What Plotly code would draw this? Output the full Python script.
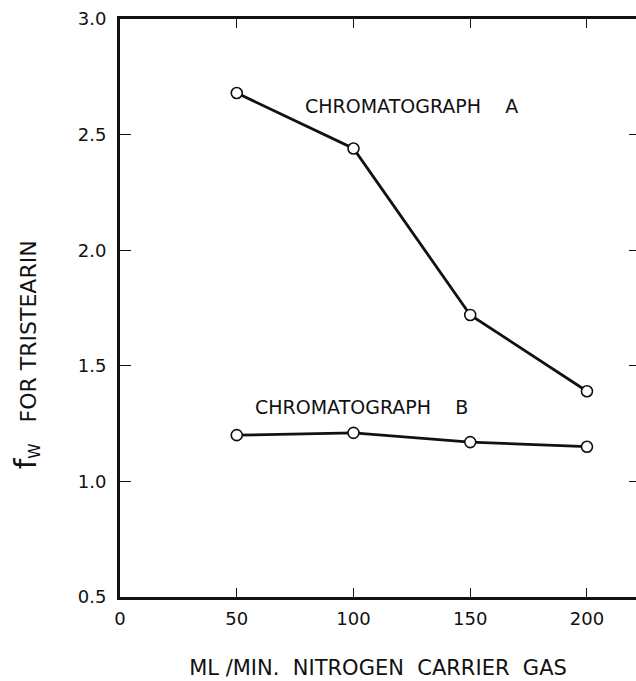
import plotly.graph_objects as go

# Carrier gas flow rate (ml/min)
flow_rates = [50, 100, 150, 200]
# Weight correction factor f_W for tristearin on each instrument
fw_chromatograph_a = [2.68, 2.44, 1.72, 1.39]
fw_chromatograph_b = [1.20, 1.21, 1.17, 1.15]

x_ticks = [0, 50, 100, 150, 200]
y_ticks = [0.5, 1.0, 1.5, 2.0, 2.5, 3.0]
y_tick_text = ["0.5", "1.0", "1.5", "2.0", "2.5", "3.0"]

FONT = "DejaVu Sans"
INK = "#111111"

marker_style = dict(symbol="circle", size=11, color="white",
                    line=dict(color=INK, width=1.6))
line_style = dict(color=INK, width=2.8)

fig = go.Figure()
for series in (fw_chromatograph_a, fw_chromatograph_b):
    fig.add_trace(go.Scatter(
        x=flow_rates, y=series, mode="lines+markers",
        line=line_style, marker=marker_style, showlegend=False,
        cliponaxis=False,
    ))

# invisible trace on a right-hand axis so inward ticks show on that side
fig.add_trace(go.Scatter(x=[None], y=[None], yaxis="y2", showlegend=False,
                         hoverinfo="skip"))

fig.update_layout(
    width=636, height=681,
    margin=dict(l=120, r=0, t=19, b=84),
    paper_bgcolor="white", plot_bgcolor="white",
    font=dict(family=FONT, color=INK, size=17),
    xaxis=dict(
        range=[0, 221], tickvals=x_ticks, ticktext=[str(v) for v in x_ticks],
        showgrid=False, zeroline=False,
        showline=True, linecolor=INK, linewidth=2.5, mirror="ticks",
        ticks="inside", ticklen=9, tickwidth=1.4, tickcolor=INK,
        ticklabelstandoff=4,
        tickfont=dict(family=FONT, size=18, color=INK),
        title=dict(text="ML /MIN.  NITROGEN  CARRIER  GAS",
                   font=dict(family=FONT, size=21, color=INK), standoff=32),
    ),
    yaxis=dict(
        range=[0.5, 3.0], tickvals=y_ticks, ticktext=y_tick_text,
        showgrid=False, zeroline=False,
        showline=True, linecolor=INK, linewidth=3,
        ticks="inside", ticklen=11, tickwidth=1.4, tickcolor=INK,
        ticklabelstandoff=7,
        tickfont=dict(family=FONT, size=18, color=INK),
    ),
    yaxis2=dict(
        range=[0.5, 3.0], tickvals=y_ticks, overlaying="y", side="right",
        anchor="x", showgrid=False, zeroline=False, showline=False,
        ticks="inside", ticklen=7, tickwidth=1.2, tickcolor=INK,
        showticklabels=False,
    ),
)

nb = "\u00a0"
fig.add_annotation(
    x=125, y=2.624, xref="x", yref="y", showarrow=False,
    text=f"CHROMATOGRAPH{nb*4}A",
    font=dict(family=FONT, size=19, color=INK),
)
fig.add_annotation(
    x=103.6, y=1.322, xref="x", yref="y", showarrow=False,
    text=f"CHROMATOGRAPH{nb*4}B",
    font=dict(family=FONT, size=19, color=INK),
)

# vertical axis label with subscript
fig.add_annotation(
    x=-0.222, y=0.42, xref="paper", yref="paper", showarrow=False,
    textangle=-90,
    text=f"<span style='font-size:30px'>f</span><sub>W</sub>{nb*3}FOR{nb}TRISTEARIN",
    font=dict(family=FONT, size=22, color=INK),
)

fig.write_html("out.html")
